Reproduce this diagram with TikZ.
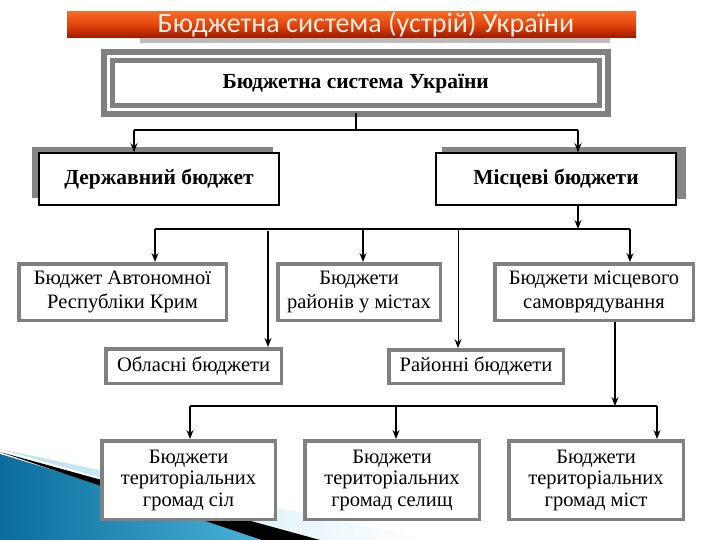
\documentclass[tikz,border=0pt]{standalone}
\usepackage{fontspec}
\setmainfont{Liberation Serif}
\newfontfamily\titlefont{Carlito}
\usetikzlibrary{arrows.meta}
\definecolor{boxgray}{HTML}{808080}
\definecolor{shgray}{HTML}{858585}
\definecolor{ttop}{HTML}{F46A26}
\definecolor{tmid}{HTML}{E2440C}
\definecolor{tbot}{HTML}{9A1800}
\definecolor{ttext}{HTML}{FBEDE0}
\definecolor{swdark}{HTML}{0B6C9C}
\definecolor{swlight}{HTML}{4DB8DE}
\definecolor{swpale}{HTML}{B9E0F1}
\begin{document}
\begin{tikzpicture}[x=1pt,y=-1pt,
  graybox/.style={draw=boxgray, line width=3.5pt, fill=white, align=center, inner sep=0pt,
    font=\fontsize{20.5}{24}\selectfont},
  tribox/.style={graybox, font=\fontsize{20.5}{21.5}\selectfont},
  blackbox/.style={draw=black, line width=1.6pt, fill=white, align=center, inner sep=0pt,
    font=\bfseries\fontsize{21.5}{24}\selectfont},
  arr/.style={-{Stealth[length=9pt,width=7pt,inset=3pt]}, line width=1.3pt},
  ln/.style={line width=1.3pt},
  heavy/.style={line width=2pt}]
\useasboundingbox (0,0) rectangle (720,540);
\fill[white] (0,0) rectangle (720,540);
% decorative swoosh
\shade[left color=swdark, right color=swlight] (0,454) -- (285,540) -- (0,540) -- cycle;
\shade[left color=swpale, right color=white] (0,449) -- (430,540) -- (320,540) -- cycle;
\fill[black] (0,452) -- (320,540) -- (262,540) -- cycle;
% title bar
\fill[shgray, opacity=0.55] (140,37) rectangle (610,43);
\shade[top color=ttop, bottom color=tbot, middle color=tmid] (67,12) rectangle (636,38);
\node[font=\titlefont\fontsize{28}{30}\selectfont, text=ttext, inner sep=0pt] (title) at (366,24.5) {Бюджетна система (устрій) України};
% top box
\node[draw=boxgray, line width=5.5pt, double=white, double distance=3pt, fill=white,
  minimum width=495.5pt, minimum height=53.5pt, inner sep=0pt,
  font=\bfseries\fontsize{21.5}{24}\selectfont] (top) at (355.75,83.25) {Бюджетна система України};
% level 2 with shadows
\fill[shgray] (32,147) rectangle (273,198);
\fill[shgray] (442,147) rectangle (686,199);
\node[blackbox, minimum width=240pt, minimum height=52pt] (derz) at (159,179) {Державний бюджет};
\node[blackbox, minimum width=240pt, minimum height=52pt] (mist) at (556,179) {Місцеві бюджети};
% level 3
\node[graybox, minimum width=207.5pt, minimum height=56.5pt] (aut) at (122.5,292) {Бюджет Автономної\\Республіки Крим};
\node[graybox, minimum width=162.5pt, minimum height=56.5pt] (rai) at (359,292) {Бюджети\\районів у містах};
\node[graybox, minimum width=198.5pt, minimum height=56.5pt] (msv) at (594,292) {Бюджети місцевого\\самоврядування};
\node[graybox, minimum width=175.5pt, minimum height=34.5pt] (obl) at (193.5,366) {Обласні бюджети};
\node[graybox, minimum width=174.5pt, minimum height=33.5pt] (raion) at (476,366.5) {Районні бюджети};
% level 4
\node[tribox, minimum width=173.5pt, minimum height=78.5pt] (b1) at (188.5,480) {Бюджети\\територіальних\\громад сіл};
\node[tribox, minimum width=174.5pt, minimum height=78.5pt] (b2) at (392,480) {Бюджети\\територіальних\\громад селищ};
\node[tribox, minimum width=174.5pt, minimum height=78.5pt] (b3) at (596,480) {Бюджети\\територіальних\\громад міст};
% junction coordinates
\coordinate (jL) at (134,130);
\coordinate (jR) at (578,130);
\coordinate (kL) at (155,229);
\coordinate (kO) at (268,229);
\coordinate (kM) at (363,229);
\coordinate (kN) at (458,229);
\coordinate (kC) at (578,229);
\coordinate (kR) at (630,229);
\coordinate (mL) at (190,406);
\coordinate (mM) at (396,406);
\coordinate (mC) at (615,406);
\coordinate (mR) at (657,406);
% connectors level 1
\draw[heavy] (top.south) -- (top.south |- jL);
\draw[heavy] (jL) -- (jR);
\draw[arr] (jL) -- (jL |- derz.north);
\draw[arr] (jR) -- (jR |- mist.north);
% connectors level 2
\draw[arr] (mist.south -| kC) -- (kC);
\draw[ln] (kL) -- (kR);
\draw[arr] (kL) -- (kL |- aut.north);
\draw[arr, heavy] ([yshift=-2pt]kO) -- (kO |- obl.north);
\draw[arr] (kM) -- (kM |- rai.north);
\draw[arr, line width=1pt] (kN) -- (kN |- raion.north);
\draw[arr] (kR) -- (kR |- msv.north);
% connectors level 3
\draw[arr, heavy] (msv.south -| mC) -- (mC);
\draw[ln] (mL) -- (mR);
\draw[arr] (mL) -- (mL |- b1.north);
\draw[arr] (mM) -- (mM |- b2.north);
\draw[arr] (mR) -- (mR |- b3.north);
\end{tikzpicture}
\end{document}
